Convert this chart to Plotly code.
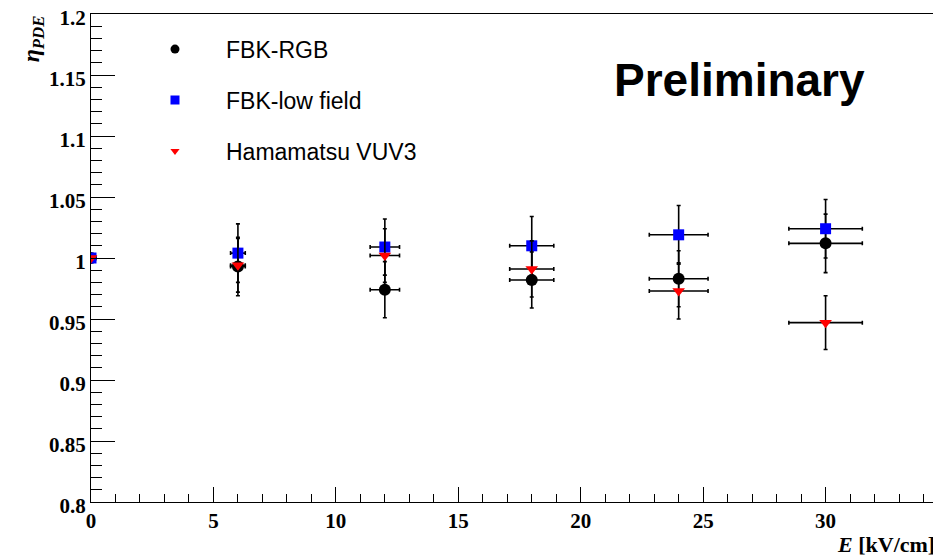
import plotly.graph_objects as go

# ---- data ----
E_field = [0, 6, 12, 18, 24, 30]
E_err = [0, 0.3, 0.6, 0.9, 1.2, 1.5]

rgb_pde = [1.000, 0.993, 0.974, 0.982, 0.983, 1.012]
rgb_err = [0, 0.024, 0.023, 0.023, 0.023, 0.024]

low_pde = [1.000, 1.004, 1.009, 1.010, 1.019, 1.024]
low_err = [0, 0.024, 0.023, 0.024, 0.024, 0.024]

vuv_pde = [1.000, 0.994, 1.002, 0.991, 0.973, 0.947]
vuv_err = [0, 0.022, 0.022, 0.023, 0.023, 0.022]

series_names = ["FBK-RGB", "FBK-low field", "Hamamatsu VUV3"]

y_tickvals = [0.8, 0.85, 0.9, 0.95, 1.0, 1.05, 1.1, 1.15, 1.2]
y_ticktext = ["0.8", "0.85", "0.9", "0.95", "1", "1.05", "1.1", "1.15", "1.2"]
x_tickvals = [0, 5, 10, 15, 20, 25, 30]
x_ticktext = ["0", "5", "10", "15", "20", "25", "30"]

fig = go.Figure()

styles = [
    (rgb_pde, rgb_err, dict(symbol="circle", color="black", size=12, lsize=9)),
    (low_pde, low_err, dict(symbol="square", color="#0000ff", size=11, lsize=9)),
    (vuv_pde, vuv_err, dict(symbol="triangle-down", color="#ff0000", size=11, lsize=8)),
]

for i, (yv, ye, mk) in enumerate(styles):
    fig.add_trace(go.Scatter(
        x=E_field, y=yv, mode="markers", name=series_names[i],
        showlegend=False,
        marker=dict(symbol=mk["symbol"], color=mk["color"], size=mk["size"], line=dict(width=0)),
        error_y=dict(type="data", array=ye, visible=True, color="black", thickness=1.6, width=2),
        error_x=dict(type="data", array=E_err, visible=True, color="black", thickness=1.6, width=2),
    ))

# legend entries (smaller symbols, as in the reference legend)
for i, (yv, ye, mk) in enumerate(styles):
    fig.add_trace(go.Scatter(
        x=[None], y=[None], mode="markers", name=series_names[i],
        legendgroup=f"g{i}", showlegend=True,
        marker=dict(symbol=mk["symbol"], color=mk["color"], size=mk["lsize"], line=dict(width=0)),
    ))

tickfont = dict(family="Liberation Serif", size=21, color="black", weight="bold")

# the page body adds an 8px offset, so the figure is sized to the remaining window
fig.update_layout(
    width=933, height=549,
    margin=dict(l=83, r=4, t=6, b=55, pad=0, autoexpand=False),
    paper_bgcolor="white", plot_bgcolor="white",
    showlegend=True,
    legend=dict(
        x=0.039, y=0.972, xanchor="left", yanchor="top",
        bgcolor="rgba(0,0,0,0)", borderwidth=0,
        font=dict(family="Liberation Sans", size=23, color="black"),
        itemwidth=92, itemsizing="trace", tracegroupgap=18,
        traceorder="grouped",
    ),
    xaxis=dict(
        range=[0, 34.55], showgrid=False, zeroline=False, automargin=False,
        showline=True, mirror=True, linecolor="black", linewidth=1,
        ticks="inside", ticklen=15, tickcolor="black", tickwidth=1,
        tickvals=x_tickvals, ticktext=x_ticktext, tickfont=tickfont,
        ticklabeloverflow="allow",
        minor=dict(ticks="inside", ticklen=8, dtick=1, tick0=0, tickcolor="black", showgrid=False),
    ),
    yaxis=dict(
        range=[0.8, 1.2], showgrid=False, zeroline=False, automargin=False,
        showline=True, mirror=True, linecolor="black", linewidth=1,
        ticks="inside", ticklen=24, tickcolor="black", tickwidth=1,
        tickvals=y_tickvals, ticktext=y_ticktext, tickfont=tickfont,
        ticklabeloverflow="allow", ticklabelshift=4,
        minor=dict(ticks="inside", ticklen=11, dtick=0.01, tick0=0.8, tickcolor="black", showgrid=False),
    ),
    annotations=[
        dict(text="<i>η<sub>PDE</sub></i>", xref="paper", yref="paper",
             x=-0.0686, y=0.95, xanchor="center", yanchor="middle", textangle=-90,
             showarrow=False, font=dict(family="Liberation Serif", size=24, color="black", weight="bold")),
        dict(text="<i>E</i> [kV/cm]", xref="paper", yref="paper",
             x=1.0, y=-0.087, xanchor="right", yanchor="middle",
             showarrow=False, font=dict(family="Liberation Serif", size=22, color="black", weight="bold")),
        dict(text="Preliminary", xref="paper", yref="paper",
             x=0.766, y=0.865, xanchor="center", yanchor="middle",
             showarrow=False, font=dict(family="Liberation Sans", size=46, color="black", weight="bold")),
    ],
)

fig.write_html("out.html")
